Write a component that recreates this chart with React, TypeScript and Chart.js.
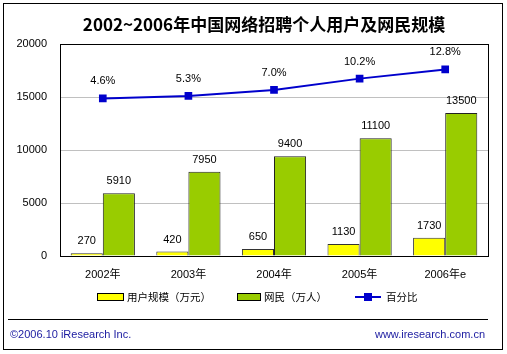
import React, { useEffect, useRef } from "react";
import { Chart, registerables } from "chart.js";

Chart.register(...registerables);

const categories = ["2002年", "2003年", "2004年", "2005年", "2006年e"];
const userScale = [270, 420, 650, 1130, 1730];
const netizens = [5910, 7950, 9400, 11100, 13500];
const percent = [4.6, 5.3, 7.0, 10.2, 12.8];
const percentLabels = ["4.6%", "5.3%", "7.0%", "10.2%", "12.8%"];
const yTicks = [0, 5000, 10000, 15000, 20000];

const TITLE = "2002~2006年中国网络招聘个人用户及网民规模";
const LEGEND_USER = "用户规模（万元）";
const LEGEND_NET = "网民（万人）";
const LEGEND_PCT = "百分比";
const FOOT_LEFT = "©2006.10 iResearch Inc.";
const FOOT_RIGHT = "www.iresearch.com.cn";

const YELLOW = "#FFFF00";
const GREEN = "#99CC00";
const BLUE = "#0000CC";
const FONT = "'Liberation Sans', 'Noto Sans CJK SC', sans-serif";
const CJK = "'Noto Sans CJK SC', sans-serif";

const decor = {
  id: "decor",
  beforeDraw(chart: any) {
    const ctx = chart.ctx;
    ctx.save();
    ctx.fillStyle = "#ffffff";
    ctx.fillRect(0, 0, chart.width, chart.height);
    ctx.restore();
  },
  afterDraw(chart: any) {
    const ctx = chart.ctx;
    const a = chart.chartArea;
    ctx.save();
    // plot border
    ctx.strokeStyle = "#000";
    ctx.lineWidth = 1;
    ctx.strokeRect(Math.round(a.left) + 0.5, Math.round(a.top) + 0.5, Math.round(a.right - a.left), Math.round(a.bottom - a.top));

    // bar labels
    ctx.fillStyle = "#000";
    ctx.font = `11px ${FONT}`;
    ctx.textAlign = "center";
    ctx.textBaseline = "middle";
    [0, 1].forEach((di) => {
      const meta = chart.getDatasetMeta(di);
      const vals = di === 0 ? userScale : netizens;
      meta.data.forEach((el: any, i: number) => {
        ctx.fillText(String(vals[i]), el.x, el.y - 12);
      });
    });
    const lm = chart.getDatasetMeta(2);
    lm.data.forEach((el: any, i: number) => {
      ctx.fillText(percentLabels[i], el.x, el.y - 17);
    });

    // title
    ctx.font = `bold 17px ${CJK}`;
    ctx.fillText(TITLE, 264, 25);

    // legend
    const ly = 297;
    ctx.textAlign = "left";
    ctx.font = `10.5px ${CJK}`;
    ctx.fillStyle = YELLOW;
    ctx.fillRect(97, ly - 4, 26, 8);
    ctx.strokeStyle = "#000";
    ctx.strokeRect(97.5, ly - 3.5, 26, 7);
    ctx.fillStyle = "#000";
    ctx.fillText(LEGEND_USER, 127, ly);
    ctx.fillStyle = GREEN;
    ctx.fillRect(237, ly - 4, 23, 8);
    ctx.strokeRect(237.5, ly - 3.5, 23, 7);
    ctx.fillStyle = "#000";
    ctx.fillText(LEGEND_NET, 264, ly);
    ctx.strokeStyle = BLUE;
    ctx.lineWidth = 2;
    ctx.beginPath();
    ctx.moveTo(355, ly);
    ctx.lineTo(381, ly);
    ctx.stroke();
    ctx.fillStyle = BLUE;
    ctx.fillRect(364, ly - 4, 8, 8);
    ctx.fillStyle = "#000";
    ctx.fillText(LEGEND_PCT, 386, ly);

    // footer
    ctx.strokeStyle = "#000";
    ctx.lineWidth = 1;
    ctx.beginPath();
    ctx.moveTo(8, 319.5);
    ctx.lineTo(488, 319.5);
    ctx.stroke();
    ctx.fillStyle = "#1A1AA0";
    ctx.font = `11px ${FONT}`;
    ctx.fillText(FOOT_LEFT, 10, 335);
    ctx.textAlign = "right";
    ctx.fillText(FOOT_RIGHT, 485, 335);

    // outer border
    ctx.strokeStyle = "#000";
    ctx.lineWidth = 1;
    ctx.strokeRect(3.5, 3.5, 499, 346);
    ctx.restore();
  },
};

export default function App() {
  const ref = useRef<HTMLCanvasElement | null>(null);
  useEffect(() => {
    document.body.style.margin = "0";
    const chart = new Chart(ref.current as HTMLCanvasElement, {
      type: "bar",
      data: {
        labels: categories,
        datasets: [
          {
            label: LEGEND_USER,
            data: userScale,
            backgroundColor: YELLOW,
            borderColor: "#333",
            borderWidth: 1,
            categoryPercentage: 0.75,
            barPercentage: 1,
            order: 2,
          } as any,
          {
            label: LEGEND_NET,
            data: netizens,
            backgroundColor: GREEN,
            borderColor: "#222",
            borderWidth: 1,
            categoryPercentage: 0.75,
            barPercentage: 1,
            order: 2,
          } as any,
          {
            type: "line",
            label: LEGEND_PCT,
            data: percent,
            yAxisID: "y2",
            borderColor: BLUE,
            backgroundColor: BLUE,
            borderWidth: 2,
            pointStyle: "rect",
            pointRadius: 4,
            pointBackgroundColor: BLUE,
            pointBorderColor: BLUE,
            order: 0,
          } as any,
        ],
      },
      options: {
        responsive: false,
        animation: false,
        layout: { padding: { left: 8, right: 19, top: 44, bottom: 68 } },
        plugins: { legend: { display: false }, tooltip: { enabled: false } },
        scales: {
          x: {
            grid: { display: false, drawTicks: false },
            border: { display: false },
            ticks: { color: "#000", font: { size: 11, family: FONT }, padding: 12, maxRotation: 0 },
            afterFit: (s: any) => { s.height = 30; },
          },
          y: {
            min: 0,
            max: 20000,
            afterBuildTicks: (s: any) => { s.ticks = yTicks.map((v) => ({ value: v })); },
            grid: { color: "#C0C0C0", drawTicks: false },
            border: { display: false },
            ticks: {
              color: "#000",
              font: { size: 11, family: FONT },
              padding: 13,
              callback: (v: any) => String(v),
            },
            afterFit: (s: any) => { s.width = 52; },
          },
          y2: {
            display: false,
            min: -40,
            max: 20,
          },
        },
      },
      plugins: [decor],
    } as any);
    return () => chart.destroy();
  }, []);
  return (
    <div style={{ position: "absolute", left: 0, top: 0, width: 507, height: 354 }}>
      <canvas ref={ref} width={507} height={354} />
    </div>
  );
}
